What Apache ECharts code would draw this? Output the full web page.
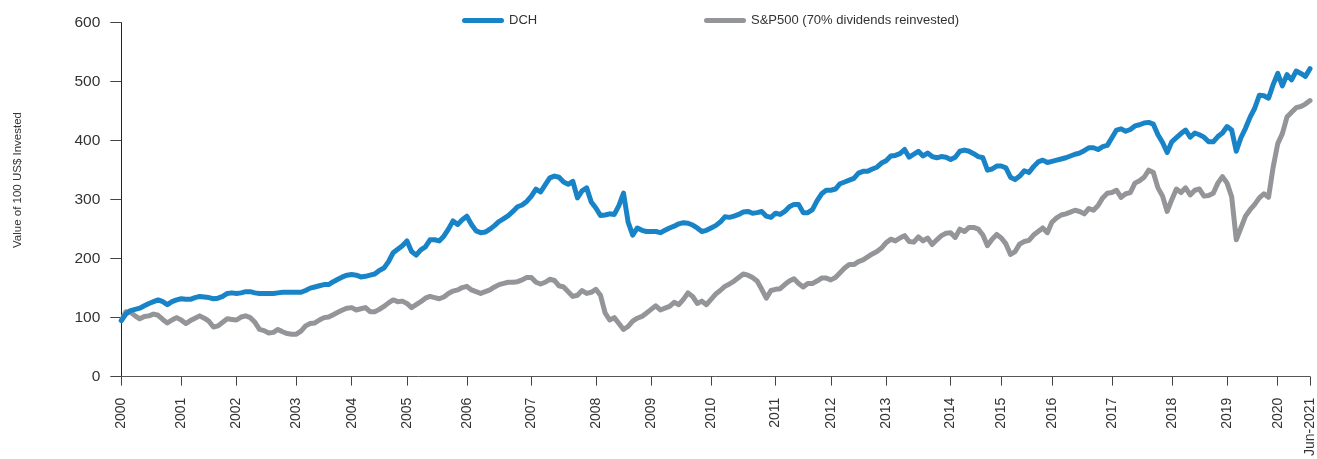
<!DOCTYPE html>
<html>
<head>
<meta charset="utf-8">
<script src="https://cdn.jsdelivr.net/npm/echarts@6/dist/echarts.min.js"></script>
<style>
html,body{margin:0;padding:0;background:#fff;}
#chart{width:1317px;height:459px;}
</style>
</head>
<body>
<div id="chart"></div>
<script>
// ---- data ----
const seriesNames = ['DCH', 'S&P500 (70% dividends reinvested)'];
// number of observations in each labelled year (2000 .. 2020), final point is Jun-2021
const pointsPerYear = [13,12,13,12,12,13,14,14,12,13,14,12,12,14,11,11,13,13,12,11,7];
const yearLabels = ['2000','2001','2002','2003','2004','2005','2006','2007','2008','2009','2010',
  '2011','2012','2013','2014','2015','2016','2017','2018','2019','2020','Jun-2021'];
const yTicks = [0,100,200,300,400,500,600];

const dch = [
  95,106,112,114,116,120,124,127,130,127,122,127,130,
  132,131,131,134,136,135,134,132,133,136,141,142,
  141,142,144,144,142,141,141,141,141,142,143,143,143,
  143,143,146,150,152,154,156,156,161,165,169,172,
  173,172,169,170,172,174,180,184,195,210,216,222,
  230,212,206,215,220,232,232,230,238,250,264,258,266,
  272,258,247,244,245,250,256,263,268,273,280,288,291,297,
  306,318,313,325,337,340,338,330,326,331,303,315,320,296,
  286,273,274,276,275,290,311,262,240,252,248,246,
  246,246,244,248,252,255,259,261,260,257,252,246,248,
  252,256,262,271,270,272,275,279,280,277,278,280,272,270,
  277,275,280,288,292,292,278,278,283,298,310,316,
  316,318,327,330,333,336,345,348,348,352,355,362,
  366,374,375,378,385,372,377,382,374,379,373,371,373,372,
  368,372,382,384,382,378,373,371,350,352,357,
  357,354,338,334,340,349,346,356,364,367,363,
  365,367,369,371,374,377,379,383,388,388,385,390,392,
  405,418,420,416,419,425,427,430,431,428,410,397,380,
  398,405,412,418,406,413,410,406,398,398,407,413,
  424,418,382,405,421,440,455,477,476,472,495,
  514,493,512,503,518,514,509,
  522
];

const sp500 = [
  95,110,109,103,98,102,103,106,104,97,91,96,100,
  96,90,95,99,103,99,94,84,86,92,98,97,
  96,101,103,100,92,80,78,74,75,80,76,73,72,
  72,77,86,90,91,96,100,101,105,109,113,116,
  117,113,115,117,110,110,114,119,125,130,127,128,
  124,117,122,127,133,136,134,132,135,141,145,147,151,
  153,147,144,141,144,147,152,156,158,160,160,161,164,168,
  168,160,157,160,165,163,154,152,144,136,138,146,141,143,
  148,138,108,96,100,90,80,85,94,99,102,108,
  114,120,113,116,119,126,122,131,142,136,124,128,122,
  131,140,146,153,157,162,168,174,172,168,162,148,133,146,
  148,149,156,162,166,158,152,158,158,162,167,167,
  164,168,176,184,190,190,195,198,203,208,212,218,
  227,233,230,235,239,229,228,237,230,235,224,232,239,243,
  244,236,250,246,253,253,250,240,222,233,241,
  235,225,207,212,225,229,231,240,246,252,244,
  262,269,274,276,279,282,280,276,285,282,290,303,311,
  312,316,304,310,312,328,332,338,350,346,320,306,280,
  300,318,312,320,308,316,318,306,307,311,328,339,
  328,305,232,252,272,283,292,303,310,304,355,
  395,412,440,448,456,458,462,
  468
];

// ---- category axis keys built from the observation counts ----
const categories = [];
const tickIndexToLabel = {};
pointsPerYear.forEach((n, yi) => {
  tickIndexToLabel[categories.length] = yearLabels[yi];
  for (let k = 0; k < n; k++) categories.push(yearLabels[yi] + '-' + (k + 1));
});
tickIndexToLabel[categories.length] = yearLabels[yearLabels.length - 1];
categories.push(yearLabels[yearLabels.length - 1]);

const isTick = (idx) => Object.prototype.hasOwnProperty.call(tickIndexToLabel, idx);

const BLUE = '#1884c7';
const GREY = '#939598';
const capsule = 'path://M2.5,0 L39.5,0 A2.5,2.5 0 0 1 39.5,5 L2.5,5 A2.5,2.5 0 0 1 2.5,0 Z';

const chart = echarts.init(document.getElementById('chart'), null, {renderer: 'canvas'});
chart.setOption({
  animation: false,
  backgroundColor: '#ffffff',
  textStyle: {fontFamily: 'Liberation Sans, Arial, sans-serif'},
  grid: {left: 121.3, right: 5.8, top: 22.7, bottom: 81.7, containLabel: false},
  legend: [
    {
      data: [seriesNames[0]], left: 462, top: 12.5, padding: 0,
      itemWidth: 42, itemHeight: 5, icon: capsule,
      textStyle: {fontSize: 13, color: '#333', lineHeight: 16}
    },
    {
      data: [seriesNames[1]], left: 704, top: 12.5, padding: 0,
      itemWidth: 42, itemHeight: 5, icon: capsule,
      textStyle: {fontSize: 13, color: '#333', lineHeight: 16}
    }
  ],
  graphic: [{
    type: 'text', x: 18, y: 180, rotation: Math.PI / 2,
    style: {
      text: 'Value of 100 US$ Invested', fill: '#333',
      font: '11.5px "Liberation Sans", Arial, sans-serif',
      align: 'center', verticalAlign: 'middle'
    }
  }],
  xAxis: {
    type: 'category',
    data: categories,
    boundaryGap: false,
    axisLine: {show: true, lineStyle: {color: '#555', width: 1}},
    axisTick: {show: true, length: 9, interval: (idx) => isTick(idx), lineStyle: {color: '#444'}},
    axisLabel: {
      show: true, rotate: 90, margin: 21, fontSize: 14, color: '#333',
      interval: (idx) => isTick(idx),
      formatter: (value, idx) => tickIndexToLabel[idx] || ''
    },
    splitLine: {show: false}
  },
  yAxis: {
    type: 'value',
    min: yTicks[0], max: yTicks[yTicks.length - 1], interval: 100,
    axisLine: {show: true, lineStyle: {color: '#222', width: 1}},
    axisTick: {show: true, length: 11, lineStyle: {color: '#444'}},
    axisLabel: {margin: 21, fontSize: 15.5, color: '#333'},
    splitLine: {show: false}
  },
  series: [
    {
      name: seriesNames[1], type: 'line', data: sp500, showSymbol: false, symbol: 'none',
      lineStyle: {color: GREY, width: 5, join: 'round', cap: 'round'},
      itemStyle: {color: GREY}, z: 2
    },
    {
      name: seriesNames[0], type: 'line', data: dch, showSymbol: false, symbol: 'none',
      lineStyle: {color: BLUE, width: 5, join: 'round', cap: 'round'},
      itemStyle: {color: BLUE}, z: 3
    }
  ]
});
</script>
</body>
</html>
